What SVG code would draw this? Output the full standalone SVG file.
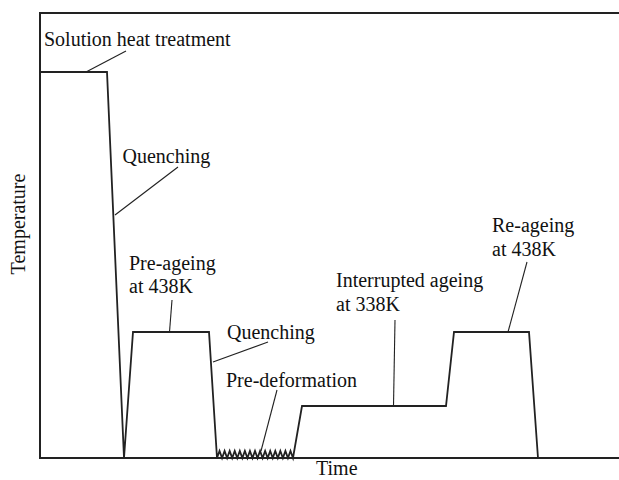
<svg xmlns="http://www.w3.org/2000/svg" width="619" height="480" viewBox="0 0 619 480">
<style>
.axis{fill:none;stroke:#222;stroke-width:2}
.curve{fill:none;stroke:#222;stroke-width:1.8;stroke-linejoin:miter}
.leader{fill:none;stroke:#222;stroke-width:1.1}
.lbl{font-family:'Liberation Serif','Times New Roman','DejaVu Serif',serif;font-size:20px;fill:#111}
</style>
<rect width="619" height="480" fill="#fff"/>
<g id="axes">
<path class="axis" d="M619,13 H40 V458 H619"/>
</g>
<g id="process-curve">
<path class="curve" d="M40,72 L107,72 L124,458 L133,332 L209,332 L217,458 L219.53,451 L222.07,458 L224.6,451 L227.13,458 L229.67,451 L232.2,458 L234.73,451 L237.27,458 L239.8,451 L242.33,458 L244.87,451 L247.4,458 L249.93,451 L252.47,458 L255,451 L257.53,458 L260.07,451 L262.6,458 L265.13,451 L267.67,458 L270.2,451 L272.73,458 L275.27,451 L277.8,458 L280.33,451 L282.87,458 L285.4,451 L287.93,458 L290.47,451 L293,458 L302,406 L446,406 L454,332 L529,332 L538,458"/>
</g>
<g id="connectors">
<line class="leader" x1="126" y1="51" x2="86" y2="72"/>
<line class="leader" x1="178" y1="167" x2="115" y2="215"/>
<line class="leader" x1="172" y1="300" x2="169.5" y2="332"/>
<line class="leader" x1="268" y1="342" x2="213" y2="362"/>
<line class="leader" x1="277" y1="390" x2="261" y2="451"/>
<line class="leader" x1="395" y1="320" x2="393.5" y2="406"/>
<line class="leader" x1="527" y1="262" x2="508" y2="332"/>
</g>
<g id="label-solution"><text class="lbl" font-family="Liberation Serif, serif" x="44" y="46">Solution heat treatment</text></g>
<g id="label-quenching1"><text class="lbl" font-family="Liberation Serif, serif" x="122.5" y="163">Quenching</text></g>
<g id="label-preageing"><text class="lbl" font-family="Liberation Serif, serif" x="129" y="270">Pre-ageing</text><text class="lbl" font-family="Liberation Serif, serif" x="129" y="293">at 438K</text></g>
<g id="label-quenching2"><text class="lbl" font-family="Liberation Serif, serif" x="227" y="339">Quenching</text></g>
<g id="label-predeformation"><text class="lbl" font-family="Liberation Serif, serif" x="226" y="387">Pre-deformation</text></g>
<g id="label-interrupted"><text class="lbl" font-family="Liberation Serif, serif" x="336" y="287">Interrupted ageing</text><text class="lbl" font-family="Liberation Serif, serif" x="336" y="311">at 338K</text></g>
<g id="label-reageing"><text class="lbl" font-family="Liberation Serif, serif" x="492" y="232">Re-ageing</text><text class="lbl" font-family="Liberation Serif, serif" x="492" y="256">at 438K</text></g>
<g id="label-time"><text class="lbl" font-family="Liberation Serif, serif" x="316" y="475">Time</text></g>
<g id="label-temperature"><text class="lbl" font-family="Liberation Serif, serif" transform="translate(25,224) rotate(-90)" text-anchor="middle">Temperature</text></g>
</svg>
